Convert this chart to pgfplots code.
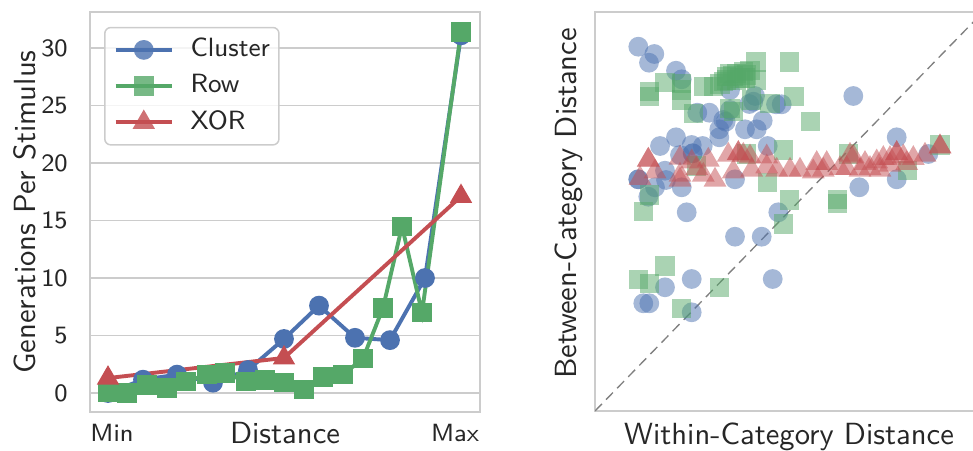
\documentclass[border=0pt]{standalone}
\usepackage{pgfplots}
\pgfplotsset{compat=1.18}
\definecolor{cblue}{HTML}{4C72B0}
\definecolor{cgreen}{HTML}{55A868}
\definecolor{cred}{HTML}{C44E52}
\definecolor{spine}{HTML}{CCCCCC}
\definecolor{txt}{HTML}{262626}
\pgfplotstableread{
x y
108 0.0
143 1.16
177 1.6
213 0.9
248 2.0
284 4.7
319 7.6
355 4.8
390 4.6
425 10.0
461 31.1
}\clusterdata
\pgfplotstableread{
x y
108 0.1
127 0.0
147 0.7
167 0.45
186 1.0
207 1.6
225 1.75
246 1.0
265 1.15
284 0.9
304 0.3
323 1.4
343 1.6
363 3.0
383 7.4
402 14.5
422 7.0
461 31.4
}\rowdata
\pgfplotstableread{
x y
108 1.3
284 3.05
461 17.1
}\xordata
\pgfplotstableread{
x y
638.3 403.3
654.3 396
649 387.3
676 379.3
681.7 370.7
755 354
853.3 354
781.7 345.7
776 345.7
697.3 337.3
709.3 337.3
730 340
749.3 346
753.3 348.3
730 360
725.7 328.3
723.3 330
762.7 329.3
719.3 320.7
745 320.7
756.7 320.7
719.3 312.7
676 312.7
660 304
691.7 305
702.7 304
767.7 304
896.7 312.7
692.7 296.7
692.7 296.7
680 295
928.3 296
638.3 270.7
638.3 270.7
665 279.3
666 270
655 262.7
681.7 262.7
735 270.7
859.3 262.7
896.7 270.7
648.3 253.3
686.7 237.7
778.3 237.7
735 213.3
761.7 213.3
691.7 171
772.7 171
665 162.7
643.3 146.7
649.3 146.7
691.7 137.7
}\clusterscatter
\pgfplotstableread{
x y
756 388
789.3 388
665 367.3
649.3 358.3
649.3 353.3
681.7 366.7
681.7 360
681.7 350
703.3 363.3
713.3 363.3
720 366
723.3 368.3
726.7 373.3
730 376.7
733 374
736.7 376.7
740 372
743.3 378.3
745 372
750 379.3
746.7 375
736.7 370
726.7 370
756.7 370
794 353.3
730 341.7
733.3 338.3
693.3 336.7
751.7 350
770 346.7
810.7 328.3
783.3 300
746.7 296
848.3 296
696.7 284
907.3 279.3
940 305
767.3 267.3
649.3 255
643.3 238.3
789.3 250
837.3 246.7
837.3 250.7
783.3 226
665 184
638.3 170.7
649.3 166.7
719.3 162.7
681.7 141.7
}\rowscatter
\pgfplotstableread{
x y
648.3 290
648.3 290
680 292
691.7 288.3
708.3 290
728.3 295
738.3 296.7
738.3 296.7
743.3 295
750 293.3
766.7 293.3
816.7 286.7
826.7 286.7
850 295
853.3 293.3
865 286.7
876.7 288.3
883.3 291.7
890 291.7
896.7 296.7
896.7 296.7
903.3 293.3
913.3 291.7
925 295
940 303.3
940 303.3
640 271.7
655 278.3
680 275
680 270
696.7 281.7
703.3 275
715 270
733.3 278.3
751.7 280
766.7 283.3
776.7 280
790 280
800 280
813.3 278.3
823.3 280
840 281.7
846.7 281.7
860 280
870 281.7
880 280
890 285
906.7 286.7
}\xorscatter
\begin{document}
\begin{tikzpicture}
\useasboundingbox (0,0) rectangle (324.333pt,150pt);
\pgfplotsset{
  every axis/.append style={
    scale only axis,
    axis line style={draw=spine, line width=0.9pt},
    major tick length=0pt,
    tick style={draw=none},
    /pgf/number format/assume math mode=true,
    ticklabel style={font=\fontsize{8.3}{10}\selectfont\sffamily, text=txt},
    label style={font=\fontsize{10.2}{12}\selectfont\sffamily, text=txt},
  },
}
% Left axis
\begin{axis}[
  at={(30pt,12.667pt)}, anchor=south west,
  width=130pt, height=133.333pt,
  xmin=90, xmax=480, ymin=-1.65, ymax=33.13,
  xtick={112,455}, xticklabels={Min,Max},
  ytick={0,5,10,15,20,25,30},
  xticklabel style={anchor=base, yshift=-9.8pt},
  yticklabel style={anchor=east, xshift=-3.9pt},
  ymajorgrids, grid style={draw=spine, line width=0.6pt},
  xlabel={Distance},
  xlabel style={at={(axis description cs:0.5,0)}, anchor=base, yshift=-10.6pt},
  ylabel={Generations Per Stimulus},
  ylabel style={at={(axis description cs:-0.141,0.5)}, anchor=base, rotate=0},
  legend cell align=left,
  legend style={at={(0.036,0.963)}, anchor=north west, draw=spine, line width=0.5pt,
    rounded corners=2pt, fill=white, fill opacity=0.8, text opacity=1, text=txt,
    font=\fontsize{8.8}{10}\selectfont\sffamily, row sep=2.4pt, column sep=5.6pt,
    inner xsep=3pt, inner ysep=2.6pt,
    nodes={inner xsep=0pt, inner ysep=1pt}},
  legend image code/.code={\draw[mark repeat=2,mark phase=2,#1] plot coordinates {(0pt,0pt) (9.35pt,0pt) (18.7pt,0pt)};},
]
\addplot[cblue, line width=1.3pt, mark=*, mark size=3.3pt, mark options={draw opacity=0, fill=cblue}] table {\clusterdata};
\addlegendentry{Cluster}
\addplot[cgreen, line width=1.3pt, mark=square*, mark size=3.25pt, mark options={draw opacity=0, fill=cgreen}] table {\rowdata};
\addlegendentry{Row}
\addplot[cred, line width=1.3pt, mark=triangle*, mark size=4.3pt, mark options={draw opacity=0, fill=cred}] table {\xordata};
\addlegendentry{XOR}
\end{axis}
% Right axis
\begin{axis}[
  at={(198.333pt,13pt)}, anchor=south west,
  width=129.333pt, height=133pt,
  xmin=595, xmax=983, ymin=39, ymax=438,
  xtick=\empty, ytick=\empty,
  clip=true,
  xlabel={Within-Category Distance},
  xlabel style={at={(axis description cs:0.5,0)}, anchor=base, yshift=-11.3pt},
  ylabel={Between-Category Distance},
  ylabel style={at={(axis description cs:-0.047,0.52)}, anchor=base, rotate=0},
]
\addplot[cblue, only marks, mark=*, mark size=3.3pt, mark options={draw opacity=0, fill=cblue, fill opacity=0.5}] table {\clusterscatter};
\addplot[cgreen, only marks, mark=square*, mark size=3.2pt, mark options={draw opacity=0, fill=cgreen, fill opacity=0.5}] table {\rowscatter};
\addplot[cred, only marks, mark=triangle*, mark size=4.4pt, mark options={draw opacity=0, fill=cred, fill opacity=0.5}] table {\xorscatter};
\addplot[draw=gray, line width=0.45pt, dash pattern=on 3.3pt off 2pt] coordinates {(595,39) (983,438)};
\end{axis}
\end{tikzpicture}
\end{document}
